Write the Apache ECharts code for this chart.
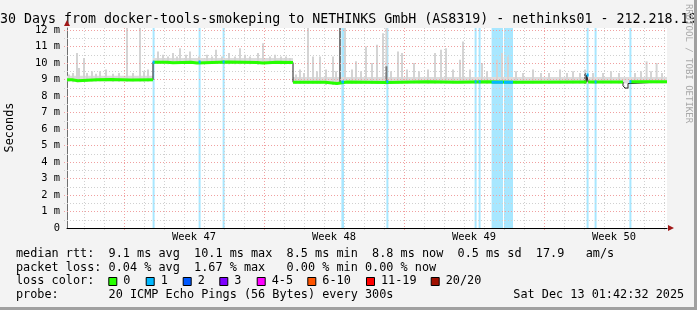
<!DOCTYPE html>
<html><head><meta charset="utf-8">
<script src="https://cdn.jsdelivr.net/npm/echarts@6/dist/echarts.min.js"></script>
<style>html,body{margin:0;padding:0;background:#f3f3f3}#c{width:697px;height:310px}</style>
</head><body><div id="c"></div>
<script>
// ---------------- data ----------------
const titleText = '30 Days from docker-tools-smokeping to NETHINKS GmbH (AS8319) - nethinks01 - 212.218.19';
const DAYS = 30;            // x axis: days from graph start
const YMAX = 12.12;         // y axis top (ms)
const yLabelValues = [0,1,2,3,4,5,6,7,8,9,10,11,12];
const yMinorValues = [0.5,1.5,2.5,3.5,4.5,5.5,6.5,7.5,8.5,9.5,10.5,11.5];
const weekLabels  = ['Week 47','Week 48','Week 49','Week 50'];
const weekCenters = [6.35, 13.35, 20.35, 27.35];
const mondayDays  = [2.85, 9.85, 16.85, 23.85];
const dayLines    = [0.85,1.85,2.85,3.85,4.85,5.85,6.85,7.85,8.85,9.85,10.85,11.85,12.85,13.85,14.85,15.85,16.85,17.85,18.85,19.85,20.85,21.85,22.85,23.85,24.85,25.85,26.85,27.85,28.85,29.85];

// median rtt (ms), value holds from medianDays[i] to medianDays[i+1]
const medianDays = [0,    0.25, 0.55, 1.5, 2.2,  3.2,  4.3,   5.0,   5.3,   6.2,  6.5,   8.0,   9.5,  9.8,   10.5,  11.3, 12.9, 13.5, 14.0, 16.0, 18.0, 19.5, 21.0, 22.5, 25.98, 26.06, 27.8, 27.9, 28.05, 28.15, 30];
const medianMs   = [8.98, 8.93, 8.98, 9.0, 8.97, 8.98, 10.05, 10.02, 10.05, 10.0, 10.06, 10.03, 10.0, 10.05, 10.03, 8.83, 8.76, 8.85, 8.82, 8.86, 8.84, 8.87, 8.83, 8.85, 9.27,  8.85,  8.62, 8.48, 8.75,  8.87,  8.85];

// periods with packet loss (1 of 20)
const lossStart = [4.28, 6.58, 7.78, 13.72, 15.97, 20.38, 20.58, 21.23, 21.85, 25.98, 26.38, 28.12];
const lossEnd   = [4.38, 6.68, 7.88, 13.85, 16.07, 20.48, 20.68, 21.80, 22.30, 26.08, 26.48, 28.22];

// baseline smoke band per level period
const bandStart = [0,    4.3,  11.3];
const bandEnd   = [4.3,  11.3, 30];
const bandLow   = [8.9,  9.95, 8.75];
const bandHigh  = [9.22, 10.3, 9.15];

// smoke spikes: day, top of light smoke (ms), top of dark smoke (ms, 0 = none)
const smokeDay = [
  0.1, 0.3, 0.5, 0.6, 0.85, 1.0, 1.25, 1.45, 1.65, 1.95, 2.3, 2.6, 3.0, 3.3, 3.65, 3.85, 4.05,
  4.55, 4.8, 5.05, 5.3, 5.5, 5.65, 5.95, 6.15, 6.6, 7.0, 7.25, 7.45, 7.75, 8.1, 8.4, 8.65, 8.9, 9.15, 9.55, 9.8, 10.15, 10.4, 10.7, 10.95, 11.15,
  11.45, 11.65, 11.85, 12.05, 12.3, 12.5, 12.65, 12.95, 13.3, 13.45, 13.65, 13.9, 14.25, 14.45, 14.7, 14.95, 15.25, 15.5, 15.8, 15.97,
  16.2, 16.55, 16.75, 17.0, 17.35, 17.6, 18.05, 18.4, 18.7, 18.95, 19.3, 19.65, 19.8, 20.15, 20.75, 21.0, 21.5, 21.75, 22.05, 22.45,
  22.8, 23.3, 23.7, 24.1, 24.65, 25.0, 25.3, 25.65, 25.9, 26.3, 26.8, 27.2, 27.6, 28.4, 28.7, 28.98, 29.2, 29.48, 29.75];
const smokeTop = [
  9.3, 9.4, 10.6, 9.7, 10.3, 9.4, 9.5, 9.35, 9.5, 9.6, 9.35, 9.4, 12.3, 9.4, 12.3, 9.5, 9.6,
  10.7, 10.5, 10.4, 10.6, 10.4, 10.9, 10.5, 10.7, 10.4, 10.5, 10.4, 10.8, 10.4, 10.6, 10.4, 10.9, 10.5, 10.4, 10.6, 11.2, 10.4, 10.5, 10.4, 10.4, 10.3,
  9.3, 9.6, 9.4, 12.3, 10.4, 9.5, 10.4, 9.6, 10.4, 9.5, 12.3, 12.3, 9.6, 10.1, 9.5, 11.0, 10.0, 11.1, 11.8, 12.3,
  9.5, 10.7, 10.6, 9.6, 10.0, 9.5, 9.6, 10.6, 10.8, 10.9, 9.6, 10.2, 11.3, 9.6, 10.0, 9.5, 10.2, 10.6, 10.4, 9.5,
  9.4, 9.6, 9.4, 9.4, 9.6, 9.4, 9.5, 9.4, 9.6, 9.4, 9.4, 9.5, 9.4, 9.4, 9.5, 10.1, 9.5, 10.0, 9.4];
const smokeDark = [
  0,0,0,0,0,0,0,0,0,0,0,0,0,0,0,0,0,
  0,0,0,0,0,0,0,0,0,0,0,0,0,0,0,0,0,0,0,0,0,0,0,0,0,
  0,0,0,0,0,0,0,0,0,0,12.3,0,0,0,0,0,0,0,0,9.8,
  0,0,0,0,0,0,0,0,0,0,0,0,0,0,0,0,0,0,0,0,
  0,0,0,0,0,0,0,0,9.4,0,0,0,0,0,0,0,0,0,0];

// loss colour legend
const lossLegendLabels = ['0','1','2','3','4-5','6-10','11-19','20/20'];
const lossLegendColors = ['#26ff00','#00b8ff','#0059ff','#7e00ff','#ff00ff','#ff5500','#ff0000','#a01000'];

const legendLines = [
  'median rtt:  9.1 ms avg  10.1 ms max  8.5 ms min  8.8 ms now  0.5 ms sd  17.9   am/s',
  'packet loss: 0.04 % avg  1.67 % max   0.00 % min 0.00 % now',
  'loss color:',
  'probe:       20 ICMP Echo Pings (56 Bytes) every 300s'
];
const dateText = 'Sat Dec 13 01:42:32 2025';

// ---------------- helpers ----------------
const MONO = 'DejaVu Sans Mono';
const SMOKE_BIN = 0.1;
function medianAt(d) {
  let v = medianMs[0];
  for (let i = 0; i < medianDays.length; i++) { if (medianDays[i] <= d) v = medianMs[i]; else break; }
  return v;
}
// black thin median (with vertical steps)
const blackData = [];
for (let i = 0; i < medianDays.length - 1; i++) {
  blackData.push([medianDays[i], medianMs[i]], [medianDays[i + 1], medianMs[i]]);
}
// green median: skip very short bins, break at big jumps
const greenData = [];
for (let i = 0; i < medianDays.length - 1; i++) {
  const dur = medianDays[i + 1] - medianDays[i];
  if (dur < 0.16) { greenData.push([medianDays[i], null]); continue; }
  greenData.push([medianDays[i], medianMs[i]], [medianDays[i + 1], medianMs[i]]);
  if (i + 1 < medianDays.length - 1 && Math.abs(medianMs[i + 1] - medianMs[i]) > 0.2) greenData.push([medianDays[i + 1], null]);
}
// blue (1 lost) median segments
const blueData = [];
for (let i = 0; i < lossStart.length; i++) {
  const v = medianAt((lossStart[i] + lossEnd[i]) / 2);
  blueData.push([lossStart[i], v], [lossEnd[i], v], [lossEnd[i], null]);
}

// grid lines data: [orientation(0=vertical,1=horizontal), value, major]
const gridData = [];
dayLines.forEach(d => { if (!mondayDays.includes(d)) gridData.push([0, d, 0]); });
yMinorValues.forEach(v => gridData.push([1, v, 0]));
mondayDays.forEach(d => gridData.push([0, d, 1]));
yLabelValues.filter(v => v > 0).forEach(v => gridData.push([1, v, 1]));

function gridRender(params, api) {
  const o = api.value(0), v = api.value(1), major = api.value(2);
  const stroke = major ? '#f0a0a0' : '#d0d0d0';
  let s;
  if (o === 0) {
    const p0 = api.coord([v, YMAX]), p1 = api.coord([v, 0]);
    s = {x1: p0[0] + 0.5, y1: p0[1], x2: p1[0] + 0.5, y2: p1[1] + 3};
  } else {
    const p0 = api.coord([0, v]), p1 = api.coord([DAYS, v]);
    s = {x1: p0[0] - 3, y1: Math.round(p0[1]) + 0.5, x2: p1[0], y2: Math.round(p1[1]) + 0.5};
  }
  return {type: 'line', shape: s, style: {stroke, lineWidth: 1, lineDash: [1, 2]}};
}
function rectBetween(api, d0, d1, lo, hi, fill) {
  const a = api.coord([d0, Math.min(hi, YMAX)]), b = api.coord([d1, lo]);
  return {type: 'rect', shape: {x: a[0], y: a[1], width: b[0] - a[0], height: b[1] - a[1]}, style: {fill}};
}
function lossRender(params, api) {
  return rectBetween(api, api.value(0), api.value(1), 0, YMAX, 'rgba(0,184,255,0.34)');
}
function bandRender(params, api) {
  return rectBetween(api, api.value(0), api.value(1), api.value(2), api.value(3), '#dcdcdc');
}
function smokeRender(params, api) {
  const d = api.value(0), top = api.value(1), dark = api.value(2);
  const base = medianAt(d) - 0.1;
  const children = [rectBetween(api, d - SMOKE_BIN / 2, d + SMOKE_BIN / 2, base, top, '#d4d4d4')];
  if (dark > 0) children.push(rectBetween(api, d - SMOKE_BIN / 2, d + SMOKE_BIN / 2, base, dark, '#7a7a7a'));
  return {type: 'group', children};
}

// ---------------- graphics (text, legend, frame) ----------------
const LX = 16, LFS = 11.83;
const legendYs = [254, 267.7, 281.3, 295];
const graphics = [
  {type: 'rect', left: 694, top: 0, shape: {width: 3, height: 310}, style: {fill: '#a0a0a0'}, z: 10},
  {type: 'rect', left: 0, top: 307, shape: {width: 697, height: 3}, style: {fill: '#a0a0a0'}, z: 10},
  {type: 'text', x: 0, y: 19.8, style: {text: titleText, font: '13.3px "' + MONO + '"', fill: '#000', verticalAlign: 'middle', align: 'left'}},
  {type: 'text', x: 10, y: 127.5, rotation: Math.PI / 2, style: {text: 'Seconds', font: LFS + 'px "' + MONO + '"', fill: '#000', align: 'center', verticalAlign: 'middle'}},
  {type: 'text', x: 688, y: 63.5, rotation: -Math.PI / 2, style: {text: 'RRDTOOL / TOBI OETIKER', font: '9px "' + MONO + '"', fill: '#a8a8a8', align: 'center', verticalAlign: 'middle'}},
  {type: 'polygon', shape: {points: [[64, 26], [70, 26], [67, 20]]}, style: {fill: '#a01818'}, z: 10},
  {type: 'polygon', shape: {points: [[668, 225], [668, 231], [674, 228]]}, style: {fill: '#a01818'}, z: 10},
  {type: 'text', x: 513.3, y: legendYs[3], style: {text: dateText, font: LFS + 'px "' + MONO + '"', fill: '#000', verticalAlign: 'middle'}}
];
legendLines.forEach((t, i) => graphics.push({type: 'text', x: LX, y: legendYs[i], style: {text: t, font: LFS + 'px "' + MONO + '"', fill: '#000', verticalAlign: 'middle'}}));
const sqX = [108.3, 145.7, 182.7, 219.3, 256.7, 307.3, 366, 430.7];
lossLegendLabels.forEach((l, i) => {
  graphics.push({type: 'rect', shape: {x: sqX[i] + 0.5, y: 277.5, width: 8, height: 8}, style: {fill: lossLegendColors[i], stroke: '#000', lineWidth: 1}});
  graphics.push({type: 'text', x: sqX[i] + 15, y: legendYs[2], style: {text: l, font: LFS + 'px "' + MONO + '"', fill: '#000', verticalAlign: 'middle'}});
});

// ---------------- chart ----------------
const chart = echarts.init(document.getElementById('c'), null, {renderer: 'canvas', width: 697, height: 310});
chart.setOption({
  animation: false,
  backgroundColor: '#f3f3f3',
  grid: {left: 67, top: 28, width: 600, height: 200, show: true, backgroundColor: '#ffffff', borderWidth: 0},
  xAxis: {
    type: 'value', min: 0, max: DAYS,
    axisLine: {show: true, lineStyle: {color: '#000', width: 1}},
    axisTick: {show: false},
    splitLine: {show: false},
    axisLabel: {
      show: true, customValues: weekCenters, margin: 4,
      formatter: v => { const i = weekCenters.indexOf(v); return i >= 0 ? weekLabels[i] : ''; },
      fontFamily: MONO, fontSize: 10.4, color: '#000'
    }
  },
  yAxis: {
    type: 'value', min: 0, max: YMAX,
    axisLine: {show: true, lineStyle: {color: '#707070', width: 1}},
    axisTick: {show: false},
    splitLine: {show: false},
    axisLabel: {
      show: true, customValues: yLabelValues, margin: 7,
      formatter: v => v === 0 ? '0' : v + ' m',
      fontFamily: MONO, fontSize: 10.4, color: '#000'
    }
  },
  graphic: graphics,
  series: [
    {type: 'custom', name: 'loss', z: 1, silent: true, renderItem: lossRender,
     data: lossStart.map((s, i) => [s, lossEnd[i]]), encode: {x: [0, 1], y: []}},
    {type: 'custom', name: 'band', z: 2, silent: true, renderItem: bandRender,
     data: bandStart.map((s, i) => [s, bandEnd[i], bandLow[i], bandHigh[i]]), encode: {x: [0, 1], y: [2, 3]}},
    {type: 'custom', name: 'smoke', z: 3, silent: true, renderItem: smokeRender,
     data: smokeDay.map((d, i) => [d, smokeTop[i], smokeDark[i]]), encode: {x: 0, y: [1, 2]}},
    {type: 'custom', name: 'grid', z: 4, silent: true, renderItem: gridRender, clip: false,
     data: gridData, encode: {x: 1, y: []}},
    {type: 'line', name: 'median', z: 5, silent: true, symbol: 'none', data: blackData,
     lineStyle: {color: '#202020', width: 1}},
    {type: 'line', name: 'median 0 lost', z: 6, silent: true, symbol: 'none', data: greenData, connectNulls: false,
     lineStyle: {color: '#26ff00', width: 3}},
    {type: 'line', name: 'median 1 lost', z: 7, silent: true, symbol: 'none', data: blueData, connectNulls: false,
     lineStyle: {color: '#00b8ff', width: 3}}
  ]
});
</script>
</body></html>
